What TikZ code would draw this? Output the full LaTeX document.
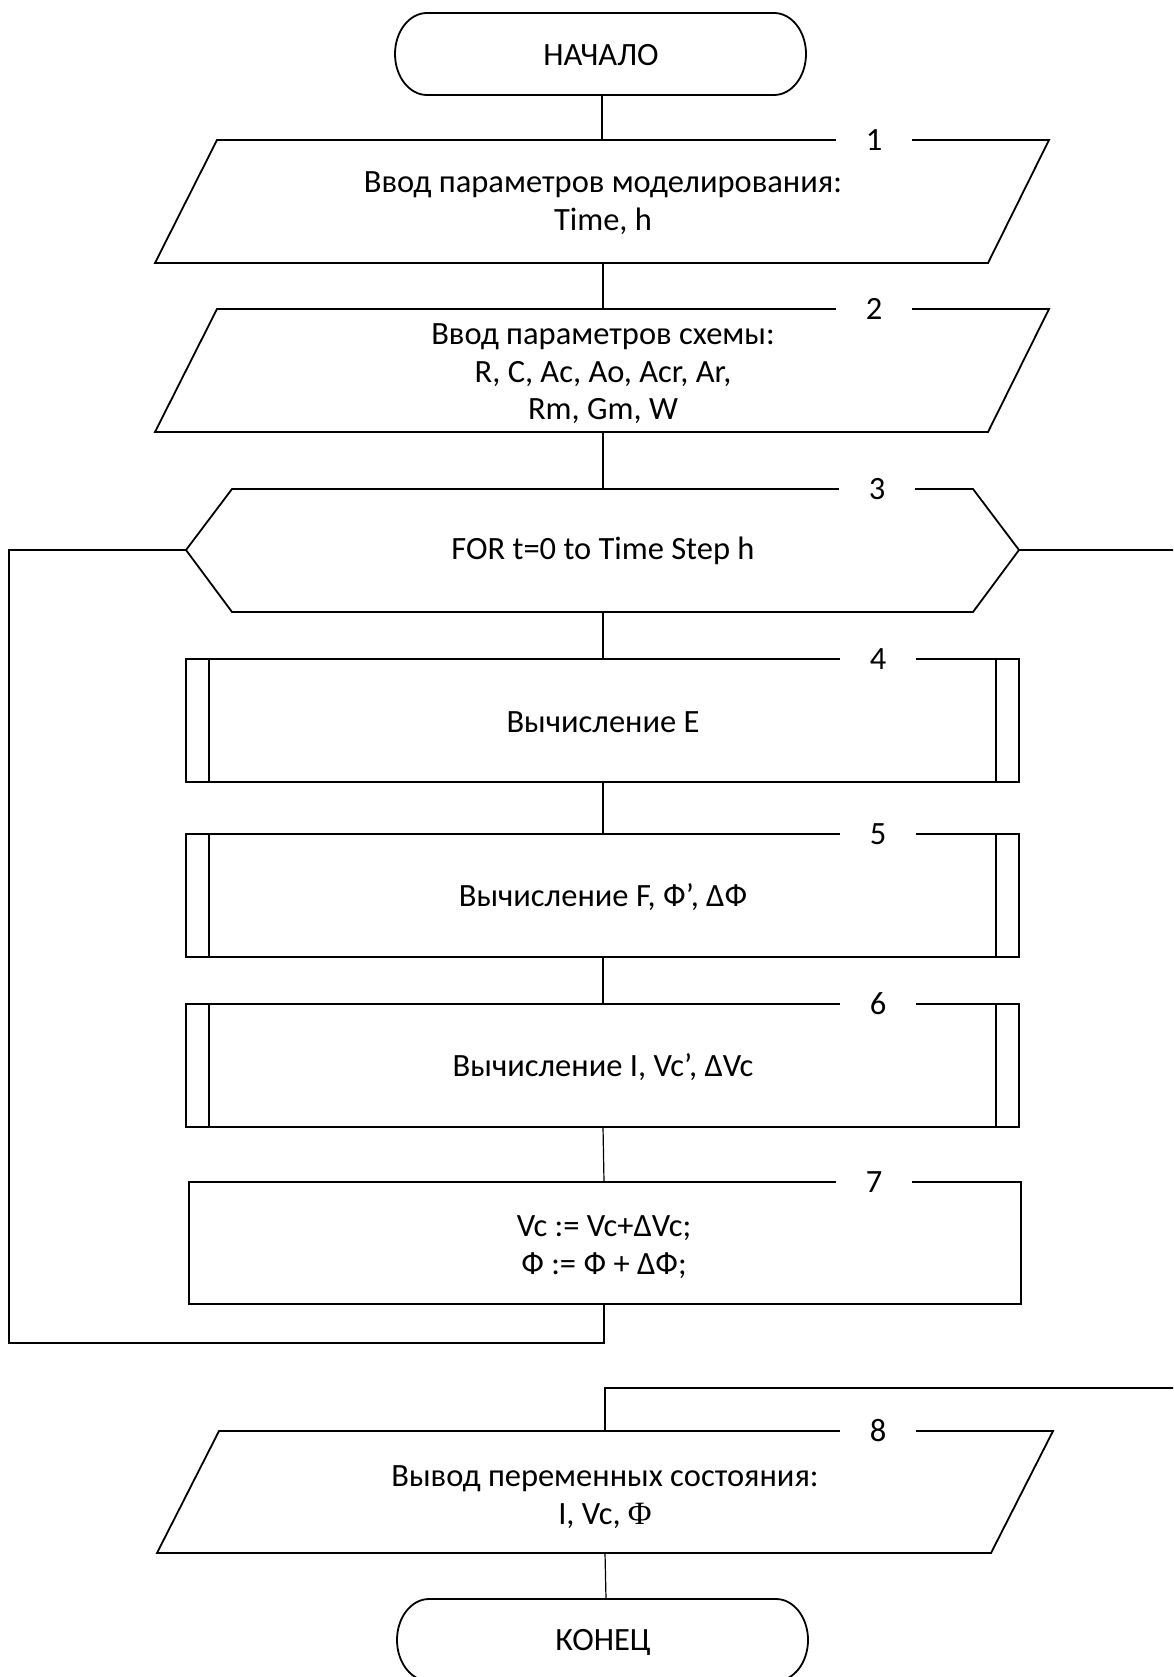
\documentclass[tikz,border=0pt]{standalone}
\usepackage{fontspec}
\setmainfont{Carlito}
\newfontfamily\serifphi{Liberation Serif}
\begin{document}
\begin{tikzpicture}[x=1pt,y=-1pt,
  shp/.style={line width=1.8pt, line join=miter},
  conn/.style={line width=1.2pt},
  loopln/.style={line width=1.8pt},
  txt/.style={align=center, font=\fontsize{32.5}{37.5}\selectfont, inner sep=0pt},
  numlbl/.style={fill=white, inner sep=0pt, minimum width=76pt, minimum height=8pt, font=\fontsize{32.5}{36}\selectfont}]
\useasboundingbox (0,0) rectangle (1173,1677);
\clip (0,0) rectangle (1173,1677);

% ---- terminator start
\draw[shp] (427,13) -- (774,13) arc[start angle=-90,end angle=90,x radius=32,y radius=41]
  -- (427,95) arc[start angle=90,end angle=270,x radius=32,y radius=41] -- cycle;
\node[txt] (start) at (601,55) {НАЧАЛО};
\coordinate (startS) at (602,95);

% ---- block 1
\draw[shp] (217,140) -- (1049,140) -- (988,263) -- (155,263) -- cycle;
\node[txt] (b1) at (603,203) {Ввод параметров моделирования:\\Time, h};
\node[numlbl] (l1) at (874,140) {1};
\coordinate (b1N) at (602,140);
\coordinate (b1S) at (603,263);

% ---- block 2
\draw[shp] (217,309) -- (1049,309) -- (988,432) -- (155,432) -- cycle;
\node[txt] (b2) at (603,374) {Ввод параметров схемы:\\R, C, Ac, Ao, Acr, Ar,\\Rm, Gm, W};
\node[numlbl] (l2) at (874,309) {2};
\coordinate (b2N) at (603,309);
\coordinate (b2S) at (603,432);

% ---- block 3 (loop)
\draw[shp] (232,489) -- (973,489) -- (1019,550) -- (973,612) -- (232,612) -- (186,550) -- cycle;
\node[txt] (b3) at (603,551) {FOR t=0 to Time Step h};
\node[numlbl] (l3) at (877,489) {3};
\coordinate (b3N) at (603,489);
\coordinate (b3S) at (603,612);
\coordinate (b3W) at (186,550);
\coordinate (b3E) at (1019,550);

% ---- blocks 4-6 (predefined process)
\foreach \nm/\yt/\lab/\tx in {b4/659/4/{Вычисление E}, b5/834/5/{Вычисление F, Ф’, ΔФ}, b6/1004/6/{Вычисление I, Vc’, ΔVc}}{
  \draw[shp] (186,\yt) rectangle (1019,\yt+123);
  \draw[shp] (209,\yt) -- (209,\yt+123);
  \draw[shp] (996,\yt) -- (996,\yt+123);
  \node[txt] (\nm) at (603,\yt+63) {\tx};
  \node[numlbl] (l\lab) at (878,\yt) {\lab};
  \coordinate (\nm N) at (603,\yt);
  \coordinate (\nm S) at (603,\yt+123);
}

% ---- block 7
\draw[shp] (189,1182) rectangle (1021,1304);
\node[txt] (b7) at (604,1247) {Vc := Vc+ΔVc;\\Ф := Ф + ΔФ;};
\node[numlbl] (l7) at (874,1182) {7};
\coordinate (b7N) at (604,1182);
\coordinate (b7S) at (604,1304);

% ---- block 8
\draw[shp] (219,1431) -- (1053,1431) -- (991,1553) -- (157,1553) -- cycle;
\node[txt] (b8) at (605,1497) {Вывод переменных состояния:\\I, Vc, {\serifphi Φ}};
\node[numlbl] (l8) at (878,1431) {8};
\coordinate (b8N) at (605,1431);
\coordinate (b8S) at (605,1553);

% ---- terminator end
\draw[shp] (429,1599) -- (776,1599) arc[start angle=-90,end angle=90,x radius=32,y radius=41]
  -- (429,1681) arc[start angle=90,end angle=270,x radius=32,y radius=41] -- cycle;
\node[txt] (end) at (603,1642) {КОНЕЦ};
\coordinate (endN) at (606,1599);

% ---- connectors
\draw[conn] (startS) -- (b1N);
\draw[conn] (b1S) -- (b2N);
\draw[conn] (b2S) -- (b3N);
\draw[conn] (b3S) -- (b4N);
\draw[conn] (b4S) -- (b5N);
\draw[conn] (b5S) -- (b6N);
\draw[conn] (b6S) -- (b7N);
\draw[conn] (b8S) -- (endN);

\coordinate (loopA) at (604,1343);
\coordinate (loopB) at (9,1343);
\coordinate (loopC) at (9,550);
\draw[loopln] (b7S) -- (loopA) -- (loopB) -- (loopC) -- (b3W);

\coordinate (exitA) at (1180,550);
\coordinate (exitB) at (1180,1388);
\coordinate (exitC) at (605,1388);
\draw[loopln] (b3E) -- (exitA);
\draw[loopln] (exitB) -- (exitC) -- (b8N);
\end{tikzpicture}
\end{document}
